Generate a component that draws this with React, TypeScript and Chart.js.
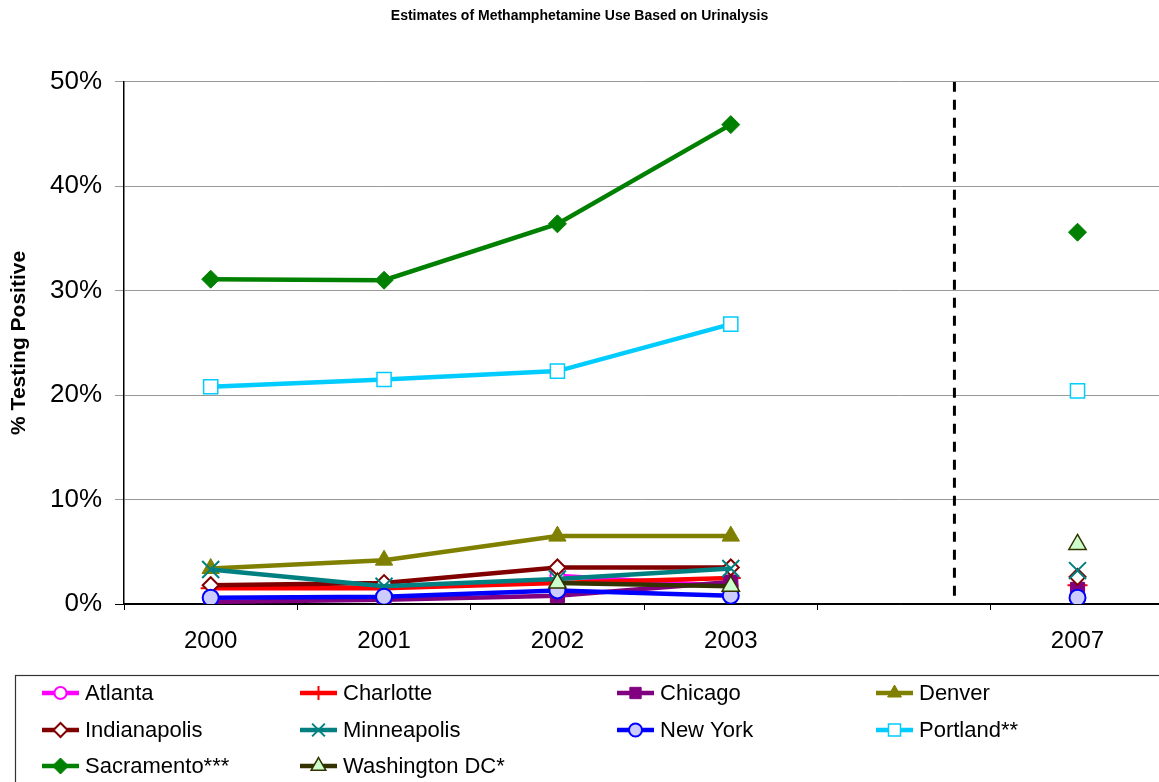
import React, { useEffect, useRef } from 'react';
import { Chart, registerables } from 'chart.js';

Chart.register(...registerables);

// ---------- data ----------
const YEARS = ['2000', '2001', '2002', '2003', '', '2007'];
const Y_TICKS = [0, 10, 20, 30, 40, 50];

const atlanta = [null, null, 2.7, 1.7, null, null];
const charlotte = [1.5, 1.5, 2.0, 2.5, null, 1.8];
const chicago = [0.2, 0.4, 0.8, 2.1, null, 1.4];
const denver = [3.4, 4.2, 6.5, 6.5, null, null];
const indianapolis = [1.8, 2.0, 3.5, 3.5, null, 2.6];
const minneapolis = [3.3, 1.7, 2.4, 3.4, null, 3.2];
const newYork = [0.6, 0.7, 1.3, 0.8, null, 0.6];
const portland = [20.8, 21.5, 22.3, 26.8, null, 20.4];
const sacramento = [31.1, 31.0, 36.4, 45.9, null, 35.6];
const washingtonDC = [null, null, 2.0, 1.7, null, 5.7];

const DIVIDER_X = 4.29;
const DIVIDER_Y = [50, 0];

// ---------- styles ----------
const FONT = 'Arial, "Liberation Sans", Helvetica, sans-serif';
const X_MIN = -0.5;
const X_MAX = 5.47;

type S = {
  label: string; values: (number | null)[]; color: string; fill: string;
  style: string; radius: number; bw: number; lr: number;
};

const SERIES: S[] = [
  { label: 'Atlanta', values: atlanta, color: '#FF00FF', fill: '#FFFFFF', style: 'circle', radius: 7, bw: 2, lr: 6 },
  { label: 'Charlotte', values: charlotte, color: '#FF0000', fill: '#FF0000', style: 'cross', radius: 10, bw: 2, lr: 7 },
  { label: 'Chicago', values: chicago, color: '#800080', fill: '#800080', style: 'rect', radius: 10, bw: 1, lr: 8 },
  { label: 'Denver', values: denver, color: '#808000', fill: '#808000', style: 'triangle', radius: 10, bw: 1, lr: 8 },
  { label: 'Indianapolis', values: indianapolis, color: '#800000', fill: '#FFFFFF', style: 'rectRot', radius: 8, bw: 2, lr: 7 },
  { label: 'Minneapolis', values: minneapolis, color: '#008080', fill: '#008080', style: 'crossRot', radius: 12, bw: 2, lr: 9 },
  { label: 'New York', values: newYork, color: '#0000FF', fill: '#CCCCFF', style: 'circle', radius: 8, bw: 2, lr: 6.5 },
  { label: 'Portland**', values: portland, color: '#00CCFF', fill: '#FFFFFF', style: 'rect', radius: 10, bw: 1.5, lr: 8.5 },
  { label: 'Sacramento***', values: sacramento, color: '#008000', fill: '#008000', style: 'rectRot', radius: 9, bw: 1, lr: 8 },
  { label: 'Washington DC*', values: washingtonDC, color: '#333300', fill: '#CCFFCC', style: 'triangle', radius: 10, bw: 1.5, lr: 8.5 },
];

// legend layout
const LEGEND_BOX = { x: 15, y: 675 };
const LEGEND_COLS = [42, 300, 617, 876];
const LEGEND_ROWS = [693, 730, 766];
const LEGEND_LINE = 37;
const LEGEND_TEXT_GAP = 6;

function drawMarker(ctx: CanvasRenderingContext2D, style: string, x: number, y: number, r: number,
  fill: string, stroke: string, bw: number) {
  ctx.save();
  ctx.fillStyle = fill;
  ctx.strokeStyle = stroke;
  ctx.lineWidth = bw;
  ctx.setLineDash([]);
  ctx.beginPath();
  let filled = true;
  switch (style) {
    case 'circle':
      ctx.arc(x, y, r, 0, Math.PI * 2);
      ctx.closePath();
      break;
    case 'rect': {
      const s = r * Math.SQRT1_2;
      ctx.rect(x - s, y - s, 2 * s, 2 * s);
      break;
    }
    case 'rectRot':
      ctx.moveTo(x - r, y);
      ctx.lineTo(x, y - r);
      ctx.lineTo(x + r, y);
      ctx.lineTo(x, y + r);
      ctx.closePath();
      break;
    case 'triangle': {
      let a = 0;
      ctx.moveTo(x + Math.sin(a) * r, y - Math.cos(a) * r);
      a += (2 * Math.PI) / 3;
      ctx.lineTo(x + Math.sin(a) * r, y - Math.cos(a) * r);
      a += (2 * Math.PI) / 3;
      ctx.lineTo(x + Math.sin(a) * r, y - Math.cos(a) * r);
      ctx.closePath();
      break;
    }
    case 'cross':
      filled = false;
      ctx.moveTo(x - r, y); ctx.lineTo(x + r, y);
      ctx.moveTo(x, y - r); ctx.lineTo(x, y + r);
      break;
    case 'crossRot': {
      filled = false;
      const d = r * Math.SQRT1_2;
      ctx.moveTo(x - d, y - d); ctx.lineTo(x + d, y + d);
      ctx.moveTo(x - d, y + d); ctx.lineTo(x + d, y - d);
      break;
    }
  }
  if (filled) ctx.fill();
  if (bw > 0) ctx.stroke();
  ctx.restore();
}

const gridLegend = {
  id: 'gridLegend',
  afterDraw(chart: any) {
    const ctx: CanvasRenderingContext2D = chart.ctx;
    ctx.save();
    ctx.strokeStyle = '#333333';
    ctx.lineWidth = 1.2;
    ctx.strokeRect(LEGEND_BOX.x + 0.5, LEGEND_BOX.y + 0.5, chart.width, chart.height);
    const items = chart.data.datasets.filter((d: any) => !d.isDivider);
    items.forEach((d: any, i: number) => {
      const col = i % 4;
      const row = Math.floor(i / 4);
      const x0 = LEGEND_COLS[col];
      const y = LEGEND_ROWS[row];
      ctx.save();
      ctx.strokeStyle = d.borderColor;
      ctx.lineWidth = d.borderWidth;
      ctx.beginPath();
      ctx.moveTo(x0, y);
      ctx.lineTo(x0 + LEGEND_LINE, y);
      ctx.stroke();
      ctx.restore();
      drawMarker(ctx, d.pointStyle, x0 + LEGEND_LINE / 2, y, d.legendRadius,
        d.pointBackgroundColor, d.pointBorderColor, d.pointBorderWidth);
      ctx.fillStyle = '#000000';
      ctx.font = `22px ${FONT}`;
      ctx.textBaseline = 'middle';
      ctx.textAlign = 'left';
      ctx.fillText(d.label, x0 + LEGEND_LINE + LEGEND_TEXT_GAP, y + 1);
    });
    ctx.restore();
  },
};

export default function App() {
  const ref = useRef<HTMLCanvasElement | null>(null);

  useEffect(() => {
    const canvas = ref.current;
    if (!canvas) return;
    const n = SERIES.length;
    const datasets: any[] = SERIES.map((s, i) => ({
      label: s.label,
      data: s.values.map((v, k) => ({ x: k, y: v })),
      borderColor: s.color,
      backgroundColor: s.fill,
      borderWidth: 4.5,
      pointStyle: s.style,
      pointRadius: s.radius,
      pointHoverRadius: s.radius,
      pointBackgroundColor: s.fill,
      pointBorderColor: s.color,
      pointBorderWidth: s.bw,
      legendRadius: s.lr,
      spanGaps: false,
      tension: 0,
      order: n - i + 1,
    }));
    datasets.push({
      label: 'divider',
      isDivider: true,
      data: DIVIDER_Y.map((y) => ({ x: DIVIDER_X, y })),
      borderColor: '#000000',
      borderWidth: 3,
      borderDash: [10, 8],
      pointRadius: 0,
      pointHoverRadius: 0,
      order: 0,
    });

    const chart = new Chart(canvas, {
      type: 'line',
      data: { datasets },
      plugins: [gridLegend],
      options: {
        animation: false,
        responsive: false,
        maintainAspectRatio: false,
        layout: { autoPadding: false, padding: { left: 0, right: 0, top: 0, bottom: 118 } },
        plugins: {
          legend: { display: false },
          tooltip: { enabled: false },
          title: {
            display: true,
            text: 'Estimates of Methamphetamine Use Based on Urinalysis',
            color: '#000000',
            font: { family: FONT, size: 14, weight: 'bold' },
            padding: { top: 8, bottom: 57 },
          },
        },
        scales: {
          x: {
            type: 'linear',
            min: X_MIN,
            max: X_MAX,
            afterFit: (scale: any) => {
              scale.height = 60;
              scale.paddingLeft = 0;
              scale.paddingRight = 0;
            },
            afterBuildTicks: (scale: any) => {
              const t: any[] = [];
              for (let v = X_MIN; v <= YEARS.length - 1 + 1e-9; v += 0.5) t.push({ value: v });
              scale.ticks = t;
            },
            ticks: {
              autoSkip: false,
              maxRotation: 0,
              padding: 17,
              color: '#000000',
              font: { family: FONT, size: 24 },
              callback: (v: any) => (Number.isInteger(v) ? YEARS[v] ?? '' : ''),
            },
            grid: {
              drawOnChartArea: false,
              tickLength: 6,
              lineWidth: 1,
              color: (c: any) => (c.tick && Number.isInteger(c.tick.value) ? 'rgba(0,0,0,0)' : '#000000'),
            },
            border: { display: true, color: '#000000', width: 1.5 },
          },
          y: {
            min: 0,
            max: 50,
            afterFit: (scale: any) => {
              scale.width = 124;
              scale.paddingTop = 0;
              scale.paddingBottom = 0;
            },
            afterBuildTicks: (scale: any) => { scale.ticks = Y_TICKS.map((v) => ({ value: v })); },
            ticks: {
              padding: 13,
              color: '#000000',
              font: { family: FONT, size: 26 },
              callback: (v: any) => `${v}%`,
            },
            grid: {
              tickLength: 9,
              lineWidth: 1,
              color: (c: any) => (c.tick && c.tick.value === 0 ? '#000000' : '#999999'),
            },
            border: { display: true, color: '#000000', width: 1.5 },
            title: {
              display: true,
              text: '% Testing Positive',
              color: '#000000',
              font: { family: FONT, size: 21, weight: 'bold' },
              padding: { top: 7, bottom: 0 },
            },
          },
        },
      },
    } as any);

    return () => chart.destroy();
  }, []);

  return (
    <div style={{ position: 'absolute', left: 0, top: 0, width: 1159, height: 782, overflow: 'hidden', background: '#fff' }}>
      <canvas ref={ref} width={1159} height={782} style={{ display: 'block' }} />
    </div>
  );
}
